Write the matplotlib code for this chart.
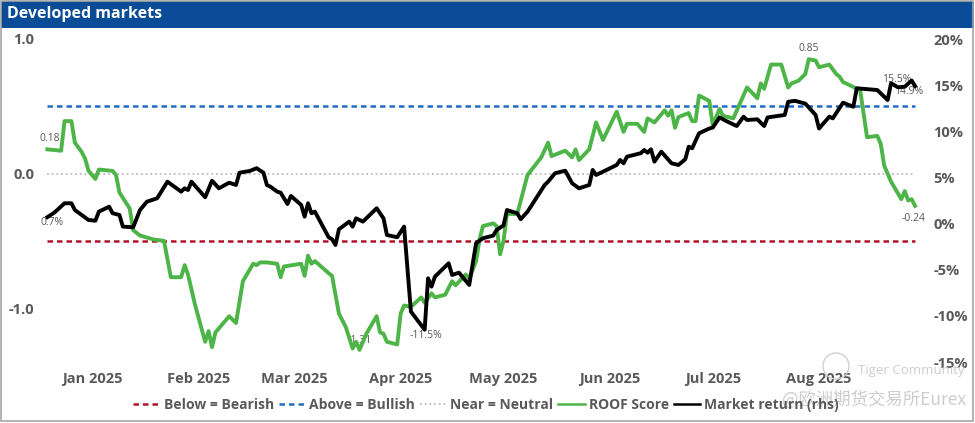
import matplotlib
matplotlib.use('Agg')
import matplotlib.pyplot as plt
import matplotlib.dates as mdates
from matplotlib.patches import Rectangle, Ellipse
from matplotlib.ticker import FuncFormatter, FixedLocator
import numpy as np
import pandas as pd

# ---------------- data ----------------
roof_dates = ["2024-12-19","2024-12-23","2024-12-24","2024-12-26","2024-12-27","2024-12-29","2024-12-30",
    "2024-12-31","2025-01-02","2025-01-03","2025-01-07","2025-01-08","2025-01-09","2025-01-12","2025-01-13",
    "2025-01-15","2025-01-19","2025-01-22","2025-01-24","2025-01-27","2025-01-28","2025-01-29","2025-01-31",
    "2025-02-03","2025-02-04","2025-02-05","2025-02-06","2025-02-10","2025-02-12","2025-02-14","2025-02-17",
    "2025-02-18","2025-02-19","2025-02-21","2025-02-24","2025-02-25","2025-02-26","2025-03-03","2025-03-04",
    "2025-03-05","2025-03-06","2025-03-07","2025-03-11","2025-03-12","2025-03-14","2025-03-16","2025-03-18",
    "2025-03-19","2025-03-20","2025-03-22","2025-03-25","2025-03-26","2025-03-27","2025-03-28","2025-03-31",
    "2025-04-01","2025-04-02","2025-04-04","2025-04-07","2025-04-08","2025-04-10","2025-04-11","2025-04-14",
    "2025-04-16","2025-04-17","2025-04-20","2025-04-21","2025-04-23","2025-04-24","2025-04-25","2025-04-28",
    "2025-04-29","2025-04-30","2025-05-01","2025-05-02","2025-05-05","2025-05-08","2025-05-12","2025-05-14",
    "2025-05-15","2025-05-19","2025-05-21","2025-05-22","2025-05-23","2025-05-26","2025-05-28","2025-05-30",
    "2025-06-03","2025-06-05","2025-06-06","2025-06-09","2025-06-11","2025-06-12","2025-06-14","2025-06-17",
    "2025-06-18","2025-06-19","2025-06-20","2025-06-21","2025-06-24","2025-06-25","2025-06-26","2025-06-27",
    "2025-06-30","2025-07-01","2025-07-03","2025-07-04","2025-07-07","2025-07-11","2025-07-14","2025-07-15",
    "2025-07-16","2025-07-18","2025-07-21","2025-07-23","2025-07-24","2025-07-26","2025-07-28","2025-07-29",
    "2025-07-31","2025-08-01","2025-08-04","2025-08-06","2025-08-07","2025-08-08","2025-08-13","2025-08-15",
    "2025-08-18","2025-08-19","2025-08-20","2025-08-22","2025-08-25","2025-08-26","2025-08-27","2025-08-28",
    "2025-08-29"]
roof_values = [0.18,0.17,0.39,0.39,0.23,0.16,0.11,
    0.02,-0.04,0.03,0.02,-0.01,-0.14,-0.26,-0.42,
    -0.46,-0.49,-0.50,-0.77,-0.77,-0.68,-0.75,-0.97,
    -1.25,-1.17,-1.29,-1.18,-1.06,-1.11,-0.80,-0.67,
    -0.68,-0.66,-0.66,-0.67,-0.77,-0.69,-0.67,-0.76,
    -0.61,-0.67,-0.65,-0.74,-0.76,-1.04,-1.14,-1.30,
    -1.25,-1.31,-1.19,-1.06,-1.18,-1.19,-1.25,-1.27,
    -1.04,-0.98,-0.99,-0.92,-0.96,-0.89,-0.92,-0.90,
    -0.80,-0.83,-0.75,-0.78,-0.65,-0.49,-0.39,-0.37,
    -0.39,-0.60,-0.50,-0.30,-0.30,-0.01,0.12,0.23,
    0.13,0.17,0.12,0.18,0.10,0.18,0.38,0.25,
    0.46,0.31,0.37,0.37,0.31,0.41,0.38,0.47,
    0.43,0.47,0.34,0.42,0.45,0.39,0.39,0.58,
    0.54,0.36,0.48,0.43,0.41,0.64,0.56,0.67,
    0.63,0.81,0.81,0.64,0.67,0.69,0.74,0.85,
    0.84,0.79,0.81,0.74,0.72,0.68,0.62,0.27,
    0.28,0.22,0.06,-0.06,-0.19,-0.13,-0.20,-0.19,
    -0.24]

ret_dates = ["2024-12-19","2024-12-21","2024-12-24","2024-12-26","2024-12-27","2024-12-31","2025-01-02",
    "2025-01-03","2025-01-06","2025-01-07","2025-01-09","2025-01-10","2025-01-13","2025-01-15","2025-01-17",
    "2025-01-20","2025-01-23","2025-01-27","2025-01-28","2025-01-29","2025-01-30","2025-02-03","2025-02-05",
    "2025-02-07","2025-02-10","2025-02-12","2025-02-13","2025-02-16","2025-02-18","2025-02-20","2025-02-21",
    "2025-02-22","2025-02-24","2025-02-25","2025-02-27","2025-02-28","2025-03-03","2025-03-04","2025-03-05",
    "2025-03-06","2025-03-07","2025-03-11","2025-03-12","2025-03-13","2025-03-14","2025-03-17","2025-03-18",
    "2025-03-19","2025-03-21","2025-03-25","2025-03-27","2025-03-28","2025-03-31","2025-04-02","2025-04-04",
    "2025-04-08","2025-04-09","2025-04-10","2025-04-11","2025-04-15","2025-04-16","2025-04-18","2025-04-21",
    "2025-04-23","2025-04-25","2025-04-28","2025-04-29","2025-05-01","2025-05-02","2025-05-05","2025-05-06",
    "2025-05-08","2025-05-13","2025-05-14","2025-05-16","2025-05-19","2025-05-21","2025-05-23","2025-05-26",
    "2025-05-27","2025-05-28","2025-05-30","2025-06-03","2025-06-04","2025-06-05","2025-06-06","2025-06-10",
    "2025-06-11","2025-06-12","2025-06-13","2025-06-14","2025-06-16","2025-06-19","2025-06-21","2025-06-23",
    "2025-06-24","2025-06-25","2025-06-27","2025-06-30","2025-07-01","2025-07-03","2025-07-05","2025-07-08",
    "2025-07-10","2025-07-11","2025-07-14","2025-07-16","2025-07-17","2025-07-22","2025-07-23","2025-07-25",
    "2025-07-28","2025-07-31","2025-08-01","2025-08-04","2025-08-05","2025-08-08","2025-08-11","2025-08-12",
    "2025-08-18","2025-08-21","2025-08-22","2025-08-24","2025-08-26","2025-08-28","2025-08-29"]
ret_values = [0.7,1.18,2.2,2.2,1.47,0.39,0.31,
    1.29,1.83,1.12,0.93,-0.33,-0.40,1.47,2.37,
    2.74,4.54,3.46,3.82,3.64,4.54,2.85,4.65,
    3.82,4.43,4.18,5.51,5.70,6.0,5.51,4.18,
    4.0,3.46,3.35,2.12,2.99,2.02,0.75,2.2,
    1.12,1.29,-1.48,-1.70,-2.32,-0.62,0.21,-0.33,
    0.57,0.21,1.66,0.57,-1.24,-1.48,-0.33,-9.54,
    -11.5,-5.93,-6.83,-5.75,-4.30,-5.57,-5.32,-6.65,
    -2.13,-1.59,-1.30,-0.69,-0.20,1.47,1.12,0.47,
    1.29,4.18,4.54,5.45,5.73,4.37,3.82,4.18,
    5.81,5.27,5.62,6.35,6.89,6.53,7.25,7.62,
    7.97,7.68,8.05,6.71,7.79,6.53,6.35,6.97,
    8.33,8.16,9.78,10.3,10.4,11.5,11.1,10.57,
    11.58,11.22,11.3,10.57,11.5,11.77,13.2,13.3,
    13.0,11.77,10.3,11.58,11.4,13.1,12.66,14.66,
    14.47,13.39,15.2,14.77,14.83,15.5,14.9]

bullish_level = 0.5
bearish_level = -0.5
neutral_level = 0.0

left_ticks = [-1.0, 0.0, 1.0]
right_ticks = [-15, -10, -5, 0, 5, 10, 15, 20]
month_ticks = ["2025-01-01","2025-02-01","2025-03-01","2025-04-01","2025-05-01",
               "2025-06-01","2025-07-01","2025-08-01"]

title = "Developed markets"
legend_labels = ["Below = Bearish", "Above = Bullish", "Near = Neutral", "ROOF Score", "Market return (rhs)"]

# ---------------- styling ----------------
plt.rcParams['font.family'] = ['Open Sans', 'Noto Sans CJK SC', 'DejaVu Sans']
GRAY = '#595959'
GREEN = '#4DB548'
RED = '#B3122B'
BLUE = '#1F6EC2'
NEUTRAL = '#BDBDBD'
DASH = (0, (2.2, 1.6))
DOT = (0, (1, 1.6))

W, H = 975, 423
fig = plt.figure(figsize=(W/100, H/100), dpi=100)

rd = pd.to_datetime(roof_dates)
md = pd.to_datetime(ret_dates)

ax = fig.add_axes([40/W, 61/H, 885/W, 323/H])
ax2 = ax.twinx()

span = [rd[0], rd[-1]]
ax.plot(span, [neutral_level]*2, color=NEUTRAL, lw=1.3, ls=DOT, zorder=1)
ax.plot(span, [bullish_level]*2, color=BLUE, lw=1.8, ls=DASH, zorder=1)
ax.plot(span, [bearish_level]*2, color=RED, lw=1.8, ls=DASH, zorder=1)
ax.plot(rd, roof_values, color=GREEN, lw=2.8, solid_joinstyle='round', zorder=3)
ax2.plot(md, ret_values, color='black', lw=2.8, solid_joinstyle='round', zorder=3)

jan1 = mdates.date2num(pd.Timestamp("2025-01-01"))
ax.set_xlim(jan1 - 15.16, jan1 + 242.9)
ax.set_ylim(-1.4, 1.0)
ax2.set_ylim(-15, 20)

ax.xaxis.set_major_locator(FixedLocator(mdates.date2num(pd.to_datetime(month_ticks))))
ax.xaxis.set_major_formatter(mdates.DateFormatter('%b %Y'))
ax.set_yticks(left_ticks)
ax.set_yticklabels([f"{v:.1f}" for v in left_ticks])
ax2.set_yticks(right_ticks)
ax2.yaxis.set_major_formatter(FuncFormatter(lambda v, p: f"{v:.0f}%"))

for a in (ax, ax2):
    for s in a.spines.values():
        s.set_visible(False)
ax.tick_params(axis='x', length=0, pad=7, labelsize=10.5, labelcolor=GRAY)
ax.tick_params(axis='y', length=0, pad=4, labelsize=10.5, labelcolor=GRAY)
ax2.tick_params(axis='y', length=0, pad=6, labelsize=10.5, labelcolor=GRAY)
for lab in ax.get_xticklabels() + ax.get_yticklabels() + ax2.get_yticklabels():
    lab.set_fontweight('bold')

# data labels
rv = np.array(roof_values); mv = np.array(ret_values)
lab_kw = dict(textcoords='offset points', fontsize=7.5, color=GRAY, ha='center', va='center', zorder=2)
ax.annotate(f"{rv[0]:.2f}", (rd[0], rv[0]), xytext=(2, 7.5), **lab_kw)
i = rv.argmin(); ax.annotate(f"{rv[i]:.2f}", (rd[i], rv[i]), xytext=(0, 7), **lab_kw)
i = rv.argmax(); ax.annotate(f"{rv[i]:.2f}", (rd[i], rv[i]), xytext=(0, 7.5), **lab_kw)
ax.annotate(f"{rv[-1]:.2f}", (rd[-1], rv[-1]), xytext=(-1, -9), **lab_kw)
ax2.annotate(f"{mv[0]:.1f}%", (md[0], mv[0]), xytext=(3, -4), **lab_kw)
i = mv.argmin(); ax2.annotate(f"{mv[i]:.1f}%", (md[i], mv[i]), xytext=(1, -4), **lab_kw)
i = mv.argmax(); ax2.annotate(f"{mv[i]:.1f}%", (md[i], mv[i]), xytext=(-10.5, 0.5), **lab_kw)
ax2.annotate(f"{mv[-1]:.1f}%", (md[-1], mv[-1]), xytext=(-5, -4), **lab_kw)

# legend
handles = [
    plt.Line2D([], [], color=RED, lw=1.8, ls=DASH),
    plt.Line2D([], [], color=BLUE, lw=1.8, ls=DASH),
    plt.Line2D([], [], color=NEUTRAL, lw=1.3, ls=DOT),
    plt.Line2D([], [], color=GREEN, lw=1.8),
    plt.Line2D([], [], color='black', lw=1.8),
]
leg = fig.legend(handles, legend_labels, loc='center', bbox_to_anchor=(486/W, 1 - 405/H), ncol=5,
                 frameon=False, handlelength=1.9, handletextpad=0.3, columnspacing=0.35,
                 prop={'weight': 'bold', 'size': 10})
for t in leg.get_texts():
    t.set_color(GRAY)

# header and frame
fig.patches.append(Rectangle((1/W, 1 - 28/H), 973/W, 27/H, transform=fig.transFigure,
                             facecolor='#0A4C97', edgecolor='none', zorder=0))
fig.patches.append(Rectangle((1/W, 2/H), 972/W, 420/H, transform=fig.transFigure,
                             facecolor='none', edgecolor='#A6A6A6', lw=1.2, zorder=0))
fig.text(7/W, 1 - 14.5/H, title, color='white', fontsize=11.5, fontweight='bold', va='center', ha='left')

# watermark
fig.patches.append(Ellipse((836/W, 1 - 366/H), 26/W, 26/H, transform=fig.transFigure, facecolor='none',
                           edgecolor='#D0D0D0', lw=1.0, zorder=5))
fig.text(858/W, 1 - 370/H, "Tiger Community", color='#C8C8C8', fontsize=9.5, va='center', ha='left', alpha=0.9)
fig.text(966/W, 1 - 400/H, "@欧洲期货交易所Eurex", color='#C8C8C8', fontsize=12.5, va='center', ha='right',
         family=['Noto Sans CJK SC', 'DejaVu Sans'], alpha=0.9)

fig.savefig('out.png', dpi=100)
